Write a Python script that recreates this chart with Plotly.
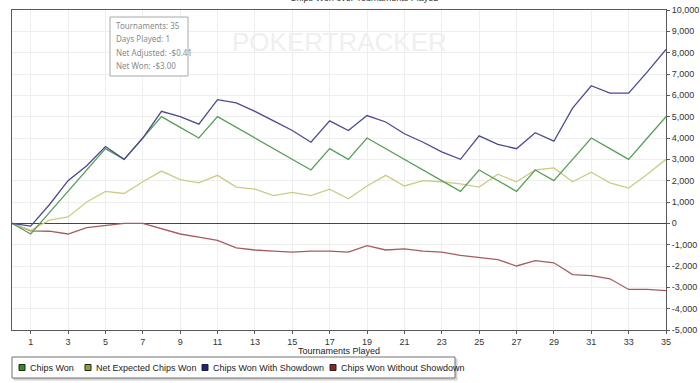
import plotly.graph_objects as go

# ---------------- data ----------------
tournaments = list(range(0, 36))
chips_won = [0, -500, 500, 1500, 2500, 3500, 3000, 4000, 5000, 4500, 4000, 5000, 4500, 4000, 3500, 3000,
             2500, 3500, 3000, 4000, 3500, 3000, 2500, 2000, 1500, 2500, 2000, 1500, 2500, 2000, 3000,
             4000, 3500, 3000, 4000, 5000]
net_expected = [0, -330, 150, 300, 1000, 1500, 1400, 1950, 2450, 2050, 1900, 2250, 1700, 1600, 1300, 1450,
                1300, 1600, 1150, 1750, 2250, 1750, 2000, 1950, 1850, 1700, 2300, 1950, 2500, 2600, 1950,
                2400, 1900, 1650, 2300, 3000]
with_showdown = [0, -130, 870, 2000, 2700, 3600, 3000, 4000, 5250, 5000, 4650, 5800, 5650, 5250, 4800, 4350,
                 3800, 4800, 4350, 5050, 4750, 4200, 3800, 3350, 3000, 4100, 3700, 3500, 4250, 3850, 5400,
                 6450, 6100, 6100, 7100, 8150]
without_showdown = [0, -350, -370, -500, -200, -100, 0, 0, -250, -500, -650, -800, -1150, -1250, -1300, -1350,
                    -1300, -1300, -1350, -1050, -1250, -1200, -1300, -1350, -1500, -1600, -1700, -2000, -1750,
                    -1850, -2400, -2450, -2600, -3100, -3100, -3150]
series_names = ["Chips Won", "Net Expected Chips Won", "Chips Won With Showdown", "Chips Won Without Showdown"]
x_ticks = list(range(1, 36, 2))
y_ticks = list(range(-5000, 10001, 1000))
y_tick_labels = [f"{v:,}" for v in y_ticks]
tooltip_lines = ["Tournaments: 35", "Days Played: 1", "Net Adjusted: -$0.41", "Net Won: -$3.00"]
chart_title = "Chips Won over Tournaments Played"
x_title = "Tournaments Played"
watermark = "POKERTRACKER"

# ---------------- style ----------------
line_colors = ["#569f56", "#cccc84", "#4a4a92", "#a65c5f"]
legend_colors = ["#1f9a1f", "#9e9e1e", "#1e1e9a", "#9a1e1e"]
series_values = [chips_won, net_expected, with_showdown, without_showdown]
draw_order = [3, 1, 0, 2]
FONT = "Liberation Sans, Arial, sans-serif"

W, H = 700, 383
L, R, T, B = 12, 34, 10, 53
PW, PH = W - L - R, H - T - B


def px_x(px):
    return (px - L) / PW


def px_y(py):
    return (H - B - py) / PH


fig = go.Figure()
for i in draw_order:
    fig.add_trace(go.Scatter(
        x=tournaments, y=series_values[i], mode="lines", name=series_names[i],
        line=dict(color=line_colors[i], width=1.3), showlegend=False, hoverinfo="skip"))

shapes = []
annotations = []

# watermark
annotations.append(dict(x=px_x(340), y=px_y(42), xref="paper", yref="paper", text=watermark,
                        showarrow=False, font=dict(family=FONT, size=26, color="#efefef"),
                        xanchor="center", yanchor="middle"))

# tooltip box
shapes.append(dict(type="rect", xref="paper", yref="paper", x0=px_x(110), x1=px_x(188),
                   y0=px_y(17), y1=px_y(76), line=dict(color="#a8a8a8", width=1), fillcolor="white",
                   layer="above"))
for k, t in enumerate(tooltip_lines):
    annotations.append(dict(x=px_x(114), y=px_y(25.5 + k * 13.3), xref="paper", yref="paper", text=t,
                            showarrow=False, font=dict(family="Noto Sans, sans-serif", size=8, color="#8a8a8a"),
                            xanchor="left", yanchor="middle"))

# title (clipped at the top edge, as in the reference)
annotations.append(dict(x=px_x(364), y=px_y(-2), xref="paper", yref="paper", text=chart_title,
                        showarrow=False, font=dict(family=FONT, size=9, color="#333333"),
                        xanchor="center", yanchor="middle"))

# x-axis title
annotations.append(dict(x=px_x(339), y=px_y(351), xref="paper", yref="paper", text=x_title,
                        showarrow=False, font=dict(family=FONT, size=9, color="#222222"),
                        xanchor="center", yanchor="middle"))

# legend box
shapes.append(dict(type="rect", xref="paper", yref="paper", x0=px_x(14), x1=px_x(457),
                   y0=px_y(359), y1=px_y(380), line=dict(color="#d0d0d0", width=1), fillcolor="#d8d8d8"))
shapes.append(dict(type="rect", xref="paper", yref="paper", x0=px_x(12), x1=px_x(455),
                   y0=px_y(357), y1=px_y(378), line=dict(color="#707070", width=1), fillcolor="white"))
sq_left = [19, 85, 202, 330]
for i, name in enumerate(series_names):
    x0 = sq_left[i]
    shapes.append(dict(type="rect", xref="paper", yref="paper", x0=px_x(x0), x1=px_x(x0 + 6),
                       y0=px_y(364.5), y1=px_y(370.5), line=dict(color="#222222", width=1),
                       fillcolor=legend_colors[i]))
    annotations.append(dict(x=px_x(x0 + 8.5), y=px_y(367.5), xref="paper", yref="paper", text=name,
                            showarrow=False, font=dict(family=FONT, size=9, color="#222222"),
                            xanchor="left", yanchor="middle"))

fig.update_layout(
    width=W, height=H, margin=dict(l=L, r=R, t=T, b=B, autoexpand=False),
    paper_bgcolor="white", plot_bgcolor="white",
    shapes=shapes, annotations=annotations, showlegend=False,
    xaxis=dict(range=[0, 35], tickvals=x_ticks, ticktext=[str(v) for v in x_ticks],
               showgrid=True, gridcolor="#eeeeee", gridwidth=1, zeroline=False,
               showline=True, linecolor="#5a5a5a", linewidth=1, mirror=True,
               ticks="outside", ticklen=3, tickcolor="#5a5a5a", automargin=False,
               tickfont=dict(family=FONT, size=9, color="#333333")),
    yaxis=dict(range=[-5000, 10000], side="right", tickvals=y_ticks, ticktext=y_tick_labels,
               showgrid=True, gridcolor="#eeeeee", gridwidth=1,
               zeroline=True, zerolinecolor="#444444", zerolinewidth=1,
               showline=True, linecolor="#5a5a5a", linewidth=1, mirror=True,
               ticks="outside", ticklen=3, tickcolor="#5a5a5a", automargin=False,
               tickfont=dict(family=FONT, size=9, color="#333333")),
)

fig.write_html("out.html", config={"displayModeBar": False},
               post_script="document.body.style.margin='0';document.body.style.padding='0';")
